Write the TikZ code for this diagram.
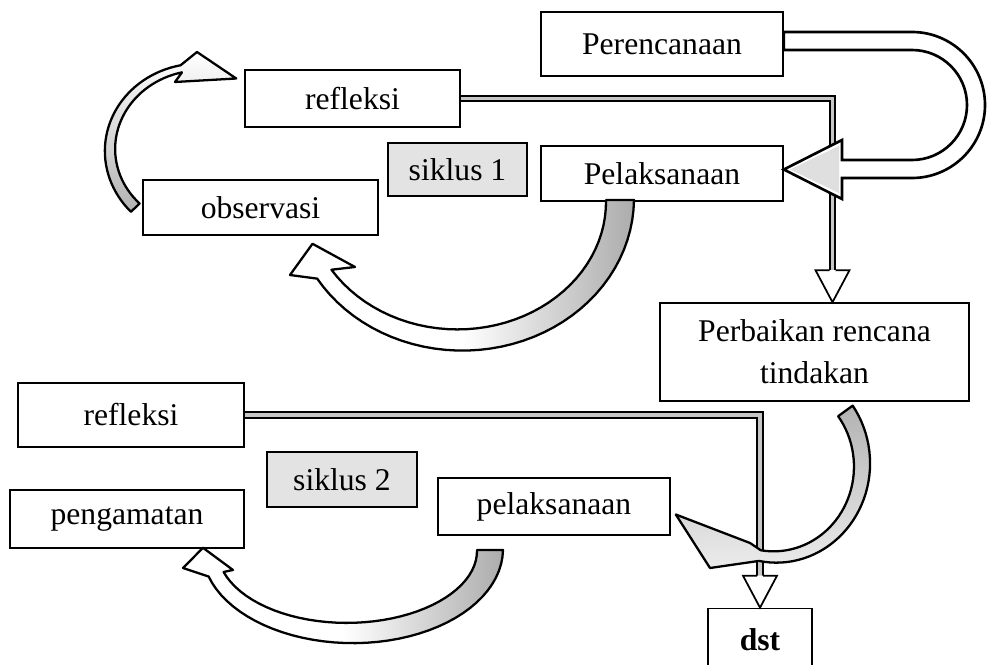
\documentclass[tikz,border=0pt]{standalone}
\usepackage{fontspec}
\setmainfont{Liberation Serif}
\usetikzlibrary{calc}

\tikzset{
  stage/.style={draw, line width=0.9pt, fill=white, inner sep=0pt, align=center,
    font=\fontsize{18}{24}\selectfont},
  boxsize/.style 2 args={minimum width=#1*0.02cm, minimum height=#2*0.02cm},
  cyclebox/.style={stage, fill=gray!22, line width=1.3pt},
  tube/.style={line width=1pt, double=gray!45, double distance=2pt},
  tubetip/.style={line width=1pt, fill=white, line join=miter},
  bentarr/.style={line width=1.3pt, samples=40, variable=\t, line join=round},
  hollow/.style={line width=1.5pt, line join=miter},
}

% tapered curved block arrow: [style]{cx}{cy}{rx}{ry}{start}{end}{half width}{head}
\newcommand{\bentarrow}[9][]{%
  \draw[bentarr,#1]
    plot[domain=#6:#7] ({#2+(#4+#8*(1-0.4*(\t-(#6))/((#7)-(#6))))*cos(\t)},
                        {#3+(#5+#8*(1-0.4*(\t-(#6))/((#7)-(#6))))*sin(\t)})
    -- #9 --
    plot[domain=#7:#6] ({#2+(#4-#8*(1-0.4*(\t-(#6))/((#7)-(#6))))*cos(\t)},
                        {#3+(#5-#8*(1-0.4*(\t-(#6))/((#7)-(#6))))*sin(\t)})
    -- cycle;}

% hollow head of a tube arrow, tip at #1
\newcommand{\tubehead}[1]{%
  \draw[tubetip] #1 ++(-3,-32) -- ++(-14,0) -- ++(17,32) -- ++(17,-32) -- ++(-14,0);}

\begin{document}
\begin{tikzpicture}[x=0.02cm, y=-0.02cm]

\useasboundingbox (0,0) rectangle (987,665);

% Cycle 1
\node[stage, boxsize={242}{64}] (plan) at (662,44) {Perencanaan};
\node[stage, boxsize={215}{57}] (refl1) at (352.5,98.5) {refleksi};
\node[cyclebox, boxsize={139}{53}] (cyc1) at (457.5,169.5) {siklus 1};
\node[stage, boxsize={242}{55}] (pel1) at (662,173.5) {Pelaksanaan};
\node[stage, boxsize={235}{55}] (obs1) at (260.5,207.5) {observasi};
\node[stage, boxsize={309}{98}] (perb) at (814.5,352) {Perbaikan rencana\\tindakan};

% Cycle 2
\node[stage, boxsize={226}{64}] (refl2) at (131,415) {refleksi};
\node[cyclebox, boxsize={150}{55}] (cyc2) at (342,479.5) {siklus 2};
\node[stage, boxsize={234}{58}] (obs2) at (127,519) {pengamatan};
\node[stage, boxsize={232}{57}] (pel2) at (554,506.5) {pelaksanaan};
\node[stage, boxsize={104}{63}, font=\fontsize{18}{24}\selectfont\bfseries] (fin) at (760,640) {dst};

% Tubes from refleksi down to the next step
\draw[tube] (refl1.east) -| ($(perb.north)+(18,-32)$);
\tubehead{($(perb.north)+(18,0)$)}
\draw[tube] (refl2.east) -| ($(fin.north)+(0,-32)$);
\tubehead{(fin.north)}

% U-turn arrow from Perencanaan to Pelaksanaan
\draw[hollow, fill=white] ($(plan.east)+(0,-12)$) -- (912,32)
  arc[start angle=-90, end angle=90, radius=73] -- (842,178) -- (842,199)
  -- ($(pel1.east)+(0,-4)$) -- (842,140) -- (842,160) -- (912,160)
  arc[start angle=90, end angle=-90, radius=55] -- ($(plan.east)+(0,6)$) -- cycle;
\fill[gray!25] (839,146) -- (790,169.5) -- (839,193) -- cycle;

% Curved arrows of cycle 1
\bentarrow[left color=white, right color=gray!65, middle color=white]
  {460}{200}{160}{140}{0}{148}{14}{(290,275) -- ($(obs1.south)+(52,8)$) -- (355,267)}
\bentarrow[top color=white, bottom color=gray!60]
  {200}{150}{90}{83}{136}{258}{6}{(197,52) -- ($(refl1.west)+(-8,-20)$) -- (175,82)}

% Curved arrows of cycle 2
\bentarrow[top color=gray!60, bottom color=gray!15]
  {775}{465}{87}{92}{-36}{100}{9}{(710,568) -- ($(pel2.east)+(5,8)$) -- (750,543)}
\bentarrow[left color=white, right color=gray!65, middle color=white]
  {350}{550}{140}{83}{0}{163}{13}{(183,568) -- ($(obs2.south)+(76,-1)$) -- (233,570)}

\end{tikzpicture}
\end{document}
